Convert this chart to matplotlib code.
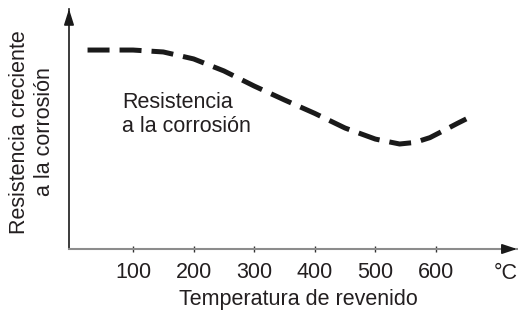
import matplotlib
matplotlib.use('Agg')
import matplotlib.pyplot as plt

plt.rcParams['font.family'] = ['Liberation Sans', 'DejaVu Sans']

# curve (relative corrosion resistance, 0-100 of axis height)
temps = [25, 100, 150, 200, 250, 300, 350, 400, 450, 500, 540, 565, 590, 610, 635, 650]
resist = [82.9, 82.9, 82.1, 79.2, 74.2, 67.9, 62.1, 56.5, 50.4, 45.8, 43.75, 44.4, 46.4, 49.0, 52.3, 54.2]
xticks = [100, 200, 300, 400, 500, 600]
unit = '°C'
curve_label = 'Resistencia\na la corrosión'
xlabel = 'Temperatura de revenido'
ylabel = 'Resistencia creciente\na la corrosión'

txt = '#231f20'
fs = 15.5

fig = plt.figure(figsize=(5.18, 3.12), dpi=100)
ax = fig.add_axes([69 / 518, 63 / 312, 448 / 518, 240 / 312])
ax.set_xlim(-5.6, 733.7)
ax.set_ylim(0, 100)

ax.plot(temps, resist, color='#1a1a1a', lw=3.6, dashes=(4.4, 2.0),
        dash_capstyle='butt', solid_capstyle='butt')

# axes look
for s in ['top', 'right']:
    ax.spines[s].set_visible(False)
ax.spines['left'].set_color('#1a1a1a')
ax.spines['left'].set_linewidth(1.2)
ax.spines['bottom'].set_color('#8c8c8c')
ax.spines['bottom'].set_linewidth(1.5)

# arrow heads
ax.annotate('', xy=(0, 1), xytext=(0, 1 - 13 / 240), xycoords='axes fraction',
            arrowprops=dict(arrowstyle='-|>,head_length=0.95,head_width=0.3',
                            color='#1a1a1a', lw=1.2, shrinkA=0, shrinkB=0,
                            mutation_scale=10))
ax.annotate('', xy=(1, 0), xytext=(1 - 12 / 448, 0), xycoords='axes fraction',
            arrowprops=dict(arrowstyle='-|>,head_length=0.9,head_width=0.3',
                            color='#1a1a1a', lw=1.2, shrinkA=0, shrinkB=0,
                            mutation_scale=10))

ax.set_yticks([])
ax.set_xticks(xticks)
ax.set_xticklabels([str(t) for t in xticks])
ax.tick_params(axis='x', direction='inout', length=5, width=1, color='#333333',
               labelsize=fs, labelcolor=txt, pad=6.5)

ax.annotate(unit, xy=(715, 0), xycoords=('data', 'axes fraction'),
            xytext=(0, -10), textcoords='offset points',
            ha='center', va='top', fontsize=fs, color=txt, annotation_clip=False)

ax.set_xlabel(xlabel, fontsize=fs, color=txt)
ax.xaxis.set_label_coords((298 - 69) / 448, -(289 - 249) / 240)

ax.text((32 - 69) / 448, (249 - 132) / 240, ylabel, transform=ax.transAxes,
        rotation=90, ha='center', va='center', multialignment='center',
        fontsize=fs, color=txt)

ax.text(82, 56, curve_label, ha='left', va='center', fontsize=fs, color=txt)

fig.savefig('out.png', dpi=100)
